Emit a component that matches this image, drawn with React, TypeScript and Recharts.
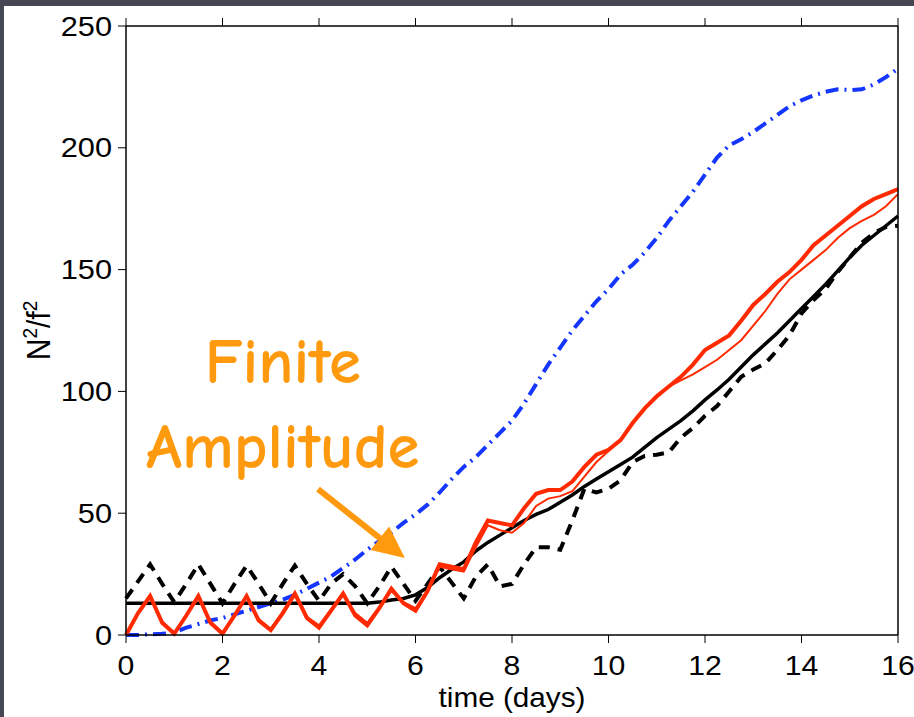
import React from 'react';
import { LineChart, Line, XAxis, YAxis, ReferenceLine, ReferenceDot, Label } from 'recharts';

// time in days (0.25 day sampling)
const days = [
  0, 0.25, 0.5, 0.75,
  1, 1.25, 1.5, 1.75,
  2, 2.25, 2.5, 2.75,
  3, 3.25, 3.5, 3.75,
  4, 4.25, 4.5, 4.75,
  5, 5.25, 5.5, 5.75,
  6, 6.25, 6.5, 6.75,
  7, 7.25, 7.5, 7.75,
  8, 8.25, 8.5, 8.75,
  9, 9.25, 9.5, 9.75,
  10, 10.25, 10.5, 10.75,
  11, 11.25, 11.5, 11.75,
  12, 12.25, 12.5, 12.75,
  13, 13.25, 13.5, 13.75,
  14, 14.25, 14.5, 14.75,
  15, 15.25, 15.5, 15.75,
  16,
];

// blue dash-dot
const blueDashDot = [
  0, 0, 0.3, 0.5,
  1, 3, 4.5, 6,
  7, 8.5, 10, 11.5,
  13, 14.5, 16.5, 19,
  21.5, 24, 27.5, 31,
  35, 38.5, 42, 46,
  49.5, 53.5, 58.5, 64,
  69, 73, 78, 83,
  88, 95, 103, 111,
  118, 125, 131, 137,
  142, 148, 152, 157,
  163, 170, 176, 182,
  189, 196, 201, 203.5,
  206.5, 210, 213.5, 217,
  219.5, 221.5, 223, 224,
  223.7, 224, 226, 229,
  232.5,
];

// black dashed
const blackDashed = [
  15, 22, 29, 21,
  13.5, 21, 29, 21,
  13, 21, 28.5, 21,
  13, 21, 28.5, 21,
  14, 21, 25, 20,
  13, 20, 28, 21,
  14, 21, 28, 21.5,
  15, 24, 29, 20,
  21, 29, 36, 36,
  35, 47, 60, 58.5,
  60, 63.5, 71, 73.5,
  74, 75, 81, 85,
  90, 94, 100, 106,
  109, 111.5, 117, 123,
  132, 137.5, 142, 149,
  155, 161, 165, 167.5,
  168,
];

// black solid
const blackSolid = [
  13, 13, 13, 13,
  13, 13, 13, 13,
  13, 13, 13, 13,
  13, 13, 13, 13,
  13, 13, 13, 13,
  13, 13.5, 14.4, 15,
  16.5, 19.5, 23.5, 27,
  30, 34.5, 38, 41,
  44, 47, 49.5, 51.5,
  54.5, 57.5, 61, 64,
  67, 70, 73, 77,
  81, 84.5, 88, 92,
  96.5, 100.6, 105, 110,
  115, 119.5, 124, 129,
  134, 139, 144, 149.5,
  155, 160, 164, 168,
  172,
];

// red thin
const redThin = [
  0, 9, 16, 5.5,
  1, 8, 16, 5.5,
  1, 8.5, 16, 6.5,
  2.5, 9.5, 16.5, 7.5,
  4, 10.5, 16.5, 9,
  5, 11.5, 18, 13.5,
  11, 18, 28, 27,
  26, 36, 45, 43,
  42, 46, 53, 56,
  57, 59, 65, 71,
  75.5, 80, 87, 93,
  97.5, 102, 104.5, 107,
  110, 113, 117, 121,
  127, 133, 140, 146,
  150, 154, 158, 163,
  167, 170, 172.5, 176,
  181,
];

// red thick
const redThick = [
  0, 9, 16, 5,
  0.5, 8, 16, 5,
  0.5, 8, 16, 6,
  2, 9, 17, 7,
  3, 10, 17, 8,
  4, 11, 19, 13,
  10, 18, 29, 28,
  27, 38, 47, 46,
  45, 52, 58, 59.5,
  59.5, 63, 69, 74,
  76, 80, 87, 93,
  98, 102, 106, 111,
  117, 120, 123, 129,
  135.5, 140, 145, 149,
  154, 160, 164, 168,
  172, 176, 179, 181,
  183,
];

const xTicks = [0, 2, 4, 6, 8, 10, 12, 14, 16];
const yTicks = [0, 50, 100, 150, 200, 250];

const annotationLines = ['Finite', 'Amplitude'];
const annotationPos = [
  { x: 3.25, y: 103.4 },
  { x: 3.25, y: 68.6 },
];
const arrowStart = { x: 3.98, y: 59.9 };
const arrowTip = { x: 5.78, y: 31.6 };

const data = days.map((d, i) => ({
  t: d,
  blue: blueDashDot[i],
  bdash: blackDashed[i],
  bsolid: blackSolid[i],
  rthin: redThin[i],
  rthick: redThick[i],
}));

const FONT = '"Liberation Sans", Arial, Helvetica, sans-serif';
const ORANGE = '#ff9a0e';

const XTick = (p: any) => (
  <g transform={`translate(${p.x},${p.y})`}>
    <text x={0} y={0} dy="0.71em" textAnchor="middle" transform="scale(1.12,1)" fontSize={27} fontFamily={FONT} fill="#000">
      {p.payload.value}
    </text>
  </g>
);

const YTick = (p: any) => (
  <g transform={`translate(${p.x},${p.y})`}>
    <text x={0} y={0} dy="0.355em" textAnchor="end" transform="scale(1.14,1)" fontSize={27} fontFamily={FONT} fill="#000">
      {p.payload.value}
    </text>
  </g>
);

const NoTick = () => <g />;

const XLabel = (p: any) => {
  const vb = p.viewBox;
  return (
    <g transform={`translate(${vb.x + vb.width / 2},${vb.y + 72})`}>
      <text x={0} y={0} textAnchor="middle" transform="scale(1.1,1)" fontSize={27} fontFamily={FONT} fill="#000">
        time (days)
      </text>
    </g>
  );
};

const YLabel = (p: any) => {
  const vb = p.viewBox;
  return (
    <g transform={`translate(${vb.x + vb.width - 76},${vb.y + vb.height / 2}) scale(1.1,1) rotate(-90)`}>
      <text x={0} y={0} textAnchor="middle" fontSize={30} fontFamily={FONT} fill="#000">
        N<tspan dy={-12} fontSize={19}>2</tspan>
        <tspan dy={12}>/f</tspan>
        <tspan dy={-12} fontSize={19}>2</tspan>
      </text>
    </g>
  );
};

const ArrowShape = (p: any) => {
  const { x1, y1, x2, y2 } = p;
  if ([x1, y1, x2, y2].some((v) => typeof v !== 'number' || isNaN(v))) return <g />;
  const dx = x2 - x1;
  const dy = y2 - y1;
  const len = Math.sqrt(dx * dx + dy * dy);
  const ux = dx / len;
  const uy = dy / len;
  const head = 32;
  const half = 15;
  const bx = x2 - ux * head;
  const by = y2 - uy * head;
  const lx = x2 - ux * (head - 4);
  const ly = y2 - uy * (head - 4);
  return (
    <g>
      <line x1={x1} y1={y1} x2={lx} y2={ly} stroke={ORANGE} strokeWidth={6} />
      <polygon
        points={`${x2},${y2} ${bx - uy * half},${by + ux * half} ${bx + uy * half},${by - ux * half}`}
        fill={ORANGE}
      />
    </g>
  );
};

const makeTextShape = (txt: string) => (p: any) => (
  <text
    x={p.cx}
    y={p.cy}
    textAnchor="middle"
    fontSize={65}
    fontWeight={700}
    fontFamily='"Comic Sans MS", "Comic Neue", "Noto Sans", "Open Sans", sans-serif'
    fill={ORANGE}
  >
    {txt}
  </text>
);

export default function App() {
  return (
    <div style={{ position: 'absolute', left: 0, top: 0, width: 914, height: 717, background: '#454852', overflow: 'hidden' }}>
      <div style={{ position: 'absolute', left: 4, top: 6, width: 910, height: 711, background: '#ffffff' }}>
        <LineChart
          width={910}
          height={711}
          data={data}
          margin={{ top: 10, right: 6, bottom: 22, left: 62 }}
        >
          <XAxis
            dataKey="t"
            type="number"
            domain={[0, 16]}
            ticks={xTicks}
            interval={0}
            height={60}
            tickSize={8}
            tickMargin={13}
            axisLine={{ stroke: '#000', strokeWidth: 1.5 }}
            tickLine={{ stroke: '#000', strokeWidth: 1 }}
            tick={<XTick />}
            label={<Label content={<XLabel />} />}
          />
          <XAxis
            xAxisId="top"
            orientation="top"
            dataKey="t"
            type="number"
            domain={[0, 16]}
            ticks={xTicks}
            interval={0}
            height={10}
            tickSize={8}
            axisLine={{ stroke: '#000', strokeWidth: 1.5 }}
            tickLine={{ stroke: '#000', strokeWidth: 1 }}
            tick={<NoTick />}
          />
          <YAxis
            type="number"
            domain={[0, 250]}
            ticks={yTicks}
            interval={0}
            width={60}
            tickSize={8}
            tickMargin={6}
            axisLine={{ stroke: '#000', strokeWidth: 1.5 }}
            tickLine={{ stroke: '#000', strokeWidth: 1 }}
            tick={<YTick />}
            label={<Label content={<YLabel />} />}
          />
          <YAxis
            yAxisId="right"
            orientation="right"
            type="number"
            domain={[0, 250]}
            ticks={yTicks}
            interval={0}
            width={10}
            tickSize={8}
            axisLine={{ stroke: '#000', strokeWidth: 1.5 }}
            tickLine={{ stroke: '#000', strokeWidth: 1 }}
            tick={<NoTick />}
          />
          <Line
            dataKey="blue"
            type="linear"
            stroke="#1436ff"
            strokeWidth={4}
            strokeDasharray="13 6 2 6"
            dot={false}
            activeDot={false}
            isAnimationActive={false}
          />
          <Line
            dataKey="bdash"
            type="linear"
            stroke="#000"
            strokeWidth={4}
            strokeDasharray="11 8"
            dot={false}
            activeDot={false}
            isAnimationActive={false}
          />
          <Line
            dataKey="bsolid"
            type="linear"
            stroke="#000"
            strokeWidth={3.5}
            dot={false}
            activeDot={false}
            isAnimationActive={false}
          />
          <Line
            dataKey="rthin"
            type="linear"
            stroke="#ff2a00"
            strokeWidth={2}
            dot={false}
            activeDot={false}
            isAnimationActive={false}
          />
          <Line
            dataKey="rthick"
            type="linear"
            stroke="#ff2a00"
            strokeWidth={4}
            dot={false}
            activeDot={false}
            isAnimationActive={false}
          />
          <ReferenceLine
            segment={[arrowStart, arrowTip]}
            stroke={ORANGE}
            shape={<ArrowShape />}
          />
          {annotationLines.map((txt, i) => (
            <ReferenceDot
              key={txt}
              x={annotationPos[i].x}
              y={annotationPos[i].y}
              r={0}
              shape={makeTextShape(txt)}
            />
          ))}
        </LineChart>
      </div>
    </div>
  );
}
